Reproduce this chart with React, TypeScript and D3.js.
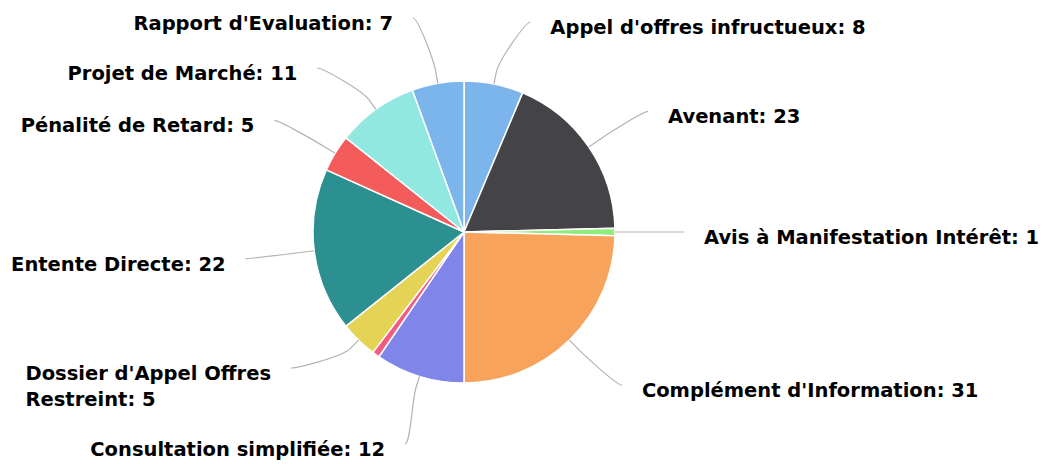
import { useEffect, useRef } from 'react';
import * as d3 from 'd3';

const NAMES = [
  "Appel d'offres infructueux",
  'Avenant',
  'Avis à Manifestation Intérêt',
  "Complément d'Information",
  'Consultation simplifiée',
  'Autres',
  "Dossier d'Appel Offres Restreint",
  'Entente Directe',
  'Pénalité de Retard',
  'Projet de Marché',
  "Rapport d'Evaluation",
];
const VALUES = [8, 23, 1, 31, 12, 1, 5, 22, 5, 11, 7];
const COLORS = ['#7cb5ec', '#434348', '#90ed7d', '#f7a35c', '#8085e9', '#f15c80', '#e4d354', '#2b908f', '#f45b5b', '#91e8e1', '#7cb5ec'];
// label dropped by the overlap check in the original
const HIDDEN_LABELS = ['Autres'];

const W = 1051, H = 464;
const CX = 464, CY = 232, R = 151;
const LABEL_R = 220, NATURAL_R = 214, BREAK_R = R + 12, GAP = 20;
const FONT = 19.5, LINE_H = 26, BOX_TOP = 18, BOX_PAD = 24;

type Lbl = { i: number; mid: number; left: boolean; target: number; y: number; lines: string[]; h: number; w: number };

export default function App() {
  const svgRef = useRef<SVGSVGElement>(null);

  useEffect(() => {
    if (!svgRef.current) return;
    const svg = d3.select(svgRef.current);
    svg.selectAll('*').remove();

    const arcs = d3.pie<number>().sort(null).value(d => d)(VALUES);
    const arc = d3.arc<d3.PieArcDatum<number>>().innerRadius(0).outerRadius(R);

    const g = svg.append('g').attr('transform', `translate(${CX},${CY})`);
    g.selectAll('path.slice').data(arcs).join('path')
      .attr('class', 'slice')
      .attr('d', arc)
      .attr('fill', (d, i) => COLORS[i])
      .attr('stroke', '#fff')
      .attr('stroke-width', 1.5)
      .attr('stroke-linejoin', 'round');

    // text measuring helper
    const tmp = svg.append('text')
      .style('font-family', '"DejaVu Sans", sans-serif')
      .style('font-weight', 'bold').style('font-size', `${FONT}px`);
    const measure = (s: string) => { tmp.text(s); return (tmp.node() as SVGTextElement).getComputedTextLength(); };

    const xAt = (y: number, left: boolean) => {
      const dy = Math.max(-LABEL_R, Math.min(LABEL_R, y - CY));
      return CX + (left ? -1 : 1) * Math.sqrt(LABEL_R * LABEL_R - dy * dy);
    };

    const labels: Lbl[] = [];
    arcs.forEach((a, i) => {
      if (HIDDEN_LABELS.includes(NAMES[i])) return;
      const mid = (a.startAngle + a.endAngle) / 2;
      const left = mid > Math.PI;
      const target = CY - Math.cos(mid) * NATURAL_R;
      const ax = xAt(target, left);
      const avail = left ? ax - GAP - 4 : W - ax - GAP - 4;
      // greedy word wrap
      const words = `${NAMES[i]}: ${VALUES[i]}`.split(' ');
      const lines: string[] = [];
      let cur = '';
      for (const wd of words) {
        const next = cur ? `${cur} ${wd}` : wd;
        if (cur && measure(next) > avail) { lines.push(cur); cur = wd; } else cur = next;
      }
      lines.push(cur);
      const w = d3.max(lines, measure) ?? 0;
      labels.push({ i, mid, left, target, y: target, lines, h: lines.length * LINE_H + BOX_PAD, w });
    });
    tmp.remove();

    // spread labels on each side so boxes do not overlap
    const distribute = (items: Lbl[], lo: number, hi: number) => {
      items.sort((a, b) => a.target - b.target);
      type C = { items: Lbl[]; top: number; h: number };
      const place = (c: C) => {
        let off = 0;
        const tops: number[] = [];
        c.items.forEach(it => { tops.push(it.target - BOX_TOP - off); off += it.h; });
        c.h = off;
        c.top = Math.min(Math.max(d3.mean(tops) ?? 0, lo), hi - c.h);
      };
      const clusters: C[] = items.map(it => ({ items: [it], top: 0, h: 0 }));
      clusters.forEach(place);
      let changed = true;
      while (changed) {
        changed = false;
        for (let k = 1; k < clusters.length; k++) {
          if (clusters[k - 1].top + clusters[k - 1].h > clusters[k].top) {
            clusters[k - 1].items.push(...clusters[k].items);
            clusters.splice(k, 1);
            place(clusters[k - 1]);
            changed = true;
            break;
          }
        }
      }
      clusters.forEach(c => {
        let off = 0;
        c.items.forEach(it => { it.y = c.top + off + BOX_TOP; off += it.h; });
      });
    };
    distribute(labels.filter(l => !l.left), 0, H + 12);
    distribute(labels.filter(l => l.left), 0, H + 12);

    const lg = svg.append('g');
    for (const l of labels) {
      const ax = xAt(l.y, l.left);
      const ay = l.y;
      const sx = Math.sin(l.mid), sy = -Math.cos(l.mid);
      const tx = CX + sx * R, ty = CY + sy * R;
      const bx = CX + sx * BREAK_R, by = CY + sy * BREAK_R;
      const path = d3.path();
      path.moveTo(ax, ay);
      path.bezierCurveTo(ax + (l.left ? 5 : -5), ay, 2 * bx - tx, 2 * by - ty, bx, by);
      path.lineTo(tx, ty);
      lg.append('path')
        .attr('d', path.toString())
        .attr('fill', 'none')
        .attr('stroke', '#b3b3b3')
        .attr('stroke-width', 1.2);

      const x0 = l.left ? ax - GAP - l.w : ax + GAP;
      const t = lg.append('text')
        .attr('x', x0)
        .attr('y', ay + 12)
        .style('font-family', '"DejaVu Sans", sans-serif')
        .style('font-weight', 'bold')
        .style('font-size', `${FONT}px`)
        .style('fill', '#000');
      l.lines.forEach((ln, k) => {
        t.append('tspan').attr('x', x0).attr('dy', k === 0 ? 0 : LINE_H).text(ln);
      });
    }
  }, []);

  return (
    <svg ref={svgRef} width={W} height={H} viewBox={`0 0 ${W} ${H}`}
      style={{ position: 'absolute', left: 0, top: 0, background: '#fff' }} />
  );
}
